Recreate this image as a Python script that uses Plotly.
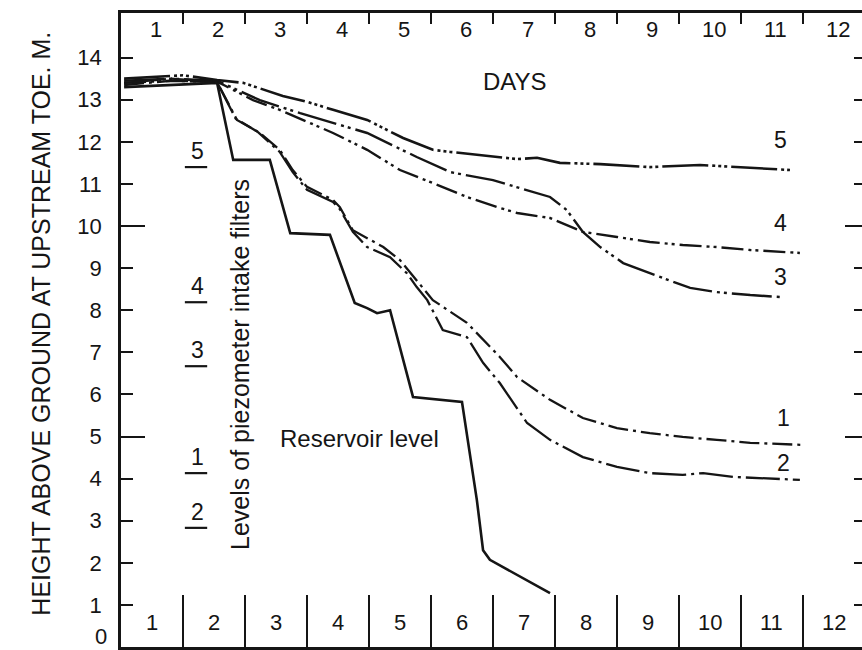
import plotly.graph_objects as go

# ---------------- data (days, height in m) ----------------
res_x = [0.05, 0.8, 1.55, 1.81, 2.40, 2.73, 3.37, 3.77, 3.97, 4.13, 4.34, 4.71, 5.50, 5.74, 5.84, 5.95, 6.92]
res_y = [13.30, 13.35, 13.40, 11.57, 11.57, 9.83, 9.79, 8.17, 8.05, 7.93, 8.00, 5.94, 5.82, 3.49, 2.30, 2.07, 1.28]

c5_x = [0.05, 1.0, 1.55, 1.97, 2.61, 3.00, 3.42, 3.97, 4.55, 5.03, 5.31, 6.11, 6.39, 6.71, 7.08, 7.73, 8.53, 9.34, 9.87, 10.79]
c5_y = [13.50, 13.58, 13.47, 13.40, 13.09, 12.95, 12.76, 12.52, 12.09, 11.81, 11.76, 11.64, 11.59, 11.62, 11.50, 11.47, 11.40, 11.45, 11.40, 11.33]

c4_x = [0.05, 0.8, 1.55, 2.13, 2.56, 3.00, 3.42, 3.97, 4.50, 5.03, 5.58, 6.11, 6.39, 6.92, 7.45, 8.00, 8.53, 9.06, 9.61, 10.15, 10.95]
c4_y = [13.40, 13.45, 13.43, 12.99, 12.76, 12.47, 12.21, 11.81, 11.33, 11.02, 10.69, 10.43, 10.31, 10.19, 9.86, 9.74, 9.62, 9.55, 9.50, 9.43, 9.36]

c3_x = [0.05, 0.8, 1.55, 2.24, 2.89, 3.97, 4.77, 5.31, 6.00, 6.55, 6.92, 7.19, 7.45, 7.73, 8.10, 8.53, 9.18, 9.61, 10.15, 10.68]
c3_y = [13.45, 13.50, 13.45, 12.99, 12.68, 12.21, 11.64, 11.28, 11.09, 10.86, 10.69, 10.38, 9.86, 9.50, 9.12, 8.88, 8.53, 8.43, 8.36, 8.31]

c1_x = [0.05, 0.8, 1.55, 1.87, 2.24, 2.56, 2.77, 3.00, 3.42, 3.53, 3.74, 4.23, 4.50, 5.03, 5.58, 5.84, 6.11, 6.39, 6.92, 7.45, 8.00, 8.53, 9.06, 9.61, 10.15, 11.00]
c1_y = [13.35, 13.45, 13.42, 12.52, 12.21, 11.81, 11.33, 10.93, 10.62, 10.45, 9.90, 9.50, 9.19, 8.24, 7.70, 7.29, 6.89, 6.41, 5.87, 5.44, 5.20, 5.08, 4.99, 4.92, 4.85, 4.80]

c2_x = [0.05, 0.8, 1.55, 1.85, 2.21, 2.56, 2.77, 3.00, 3.42, 3.53, 3.74, 3.97, 4.34, 4.61, 4.77, 4.94, 5.19, 5.58, 5.84, 6.11, 6.55, 6.92, 7.45, 8.00, 8.53, 9.06, 9.39, 9.87, 10.95]
c2_y = [13.40, 13.50, 13.42, 12.55, 12.23, 11.76, 11.28, 10.86, 10.57, 10.40, 9.86, 9.50, 9.26, 8.88, 8.55, 8.24, 7.53, 7.36, 6.75, 6.27, 5.32, 4.92, 4.51, 4.28, 4.13, 4.09, 4.13, 4.04, 3.97]

# piezometer intake filter levels
filter_names = ["5", "4", "3", "1", "2"]
filter_levels = [11.40, 8.19, 6.67, 4.13, 2.83]

# curve end labels
curve_names = ["5", "4", "3", "1", "2"]
curve_label_x = [10.63, 10.63, 10.63, 10.68, 10.68]
curve_label_y = [12.04, 10.07, 8.79, 5.44, 4.37]

day_labels = [str(d) for d in range(1, 13)]
day_bounds = list(range(1, 12))
y_ticks = list(range(0, 15))

# ---------------- figure ----------------
INK = "#151515"
FONT = "Liberation Sans, Arial, sans-serif"
XR = [0, 11.952]
YR = [0, 15.06]

fig = go.Figure()

series = [
    (res_x, res_y, "solid", 2.6),
    (c5_x, c5_y, "46px,4px,3px,3px,3px,3px,3px,4px", 2.6),
    (c4_x, c4_y, "22px,5px,3px,4px,3px,5px", 2.4),
    (c3_x, c3_y, "40px,5px,3px,4px,3px,5px", 2.4),
    (c1_x, c1_y, "20px,5px,3px,5px", 2.3),
    (c2_x, c2_y, "34px,5px,3px,5px", 2.3),
]
for xs, ys, dash, w in series:
    fig.add_trace(go.Scatter(x=xs, y=ys, mode="lines",
                             line=dict(color=INK, width=w, dash=dash),
                             showlegend=False, hoverinfo="skip"))

# filter level markers: short underline at each level
for lv in filter_levels:
    fig.add_trace(go.Scatter(x=[1.03, 1.39], y=[lv, lv], mode="lines",
                             line=dict(color=INK, width=2.2),
                             showlegend=False, hoverinfo="skip"))

# dummy traces so the extra axes are drawn
for xa, ya in [("x2", "y"), ("x", "y2"), ("x", "y3"), ("x", "y4")]:
    fig.add_trace(go.Scatter(x=[None], y=[None], xaxis=xa, yaxis=ya,
                             showlegend=False, hoverinfo="skip"))

annotations = []
centers = [b - 0.5 for b in range(1, 13)]
for lab, c in zip(day_labels, centers):
    # bottom row of day numbers
    annotations.append(dict(x=c, y=0, yref="paper", text=lab, showarrow=False,
                            yanchor="middle", yshift=25,
                            font=dict(size=22, color=INK, family=FONT)))
    # top row of day numbers
    annotations.append(dict(x=c + 0.06, y=1, yref="paper", text=lab, showarrow=False,
                            yanchor="middle", yshift=-16,
                            font=dict(size=22, color=INK, family=FONT)))
for name, lv in zip(filter_names, filter_levels):
    annotations.append(dict(x=1.24, y=lv, text=name, showarrow=False,
                            yanchor="bottom", yshift=1,
                            font=dict(size=23, color=INK, family=FONT)))
for name, lx, ly in zip(curve_names, curve_label_x, curve_label_y):
    annotations.append(dict(x=lx, y=ly, text=name, showarrow=False,
                            font=dict(size=23, color=INK, family=FONT)))
# the "0" height label sits at the very bottom edge; keep it fully inside the page
annotations.append(dict(x=0, y=y_ticks[0], text=str(y_ticks[0]), showarrow=False,
                        xanchor="right", xshift=-12, yanchor="bottom", yshift=-4,
                        font=dict(size=22, color=INK, family=FONT)))
annotations += [
    dict(x=6.35, y=13.44, text="DAYS", showarrow=False,
         font=dict(size=24, color=INK, family=FONT)),
    dict(x=3.85, y=4.96, text="Reservoir level", showarrow=False,
         font=dict(size=24, color=INK, family=FONT)),
    dict(x=1.92, y=6.7, text="Levels of piezometer intake filters", textangle=-90,
         showarrow=False, font=dict(size=25, color=INK, family=FONT)),
    dict(x=-0.108, y=0.51, xref="paper", yref="paper", xanchor="center", yanchor="middle",
         text="HEIGHT ABOVE GROUND AT UPSTREAM TOE. M.", textangle=-90,
         showarrow=False, font=dict(size=25, color=INK, family=FONT)),
]

base_x = dict(range=XR, showgrid=False, zeroline=False, fixedrange=True, automargin=False)
base_y = dict(range=YR, showgrid=False, zeroline=False, fixedrange=True, automargin=False)

fig.update_layout(
    width=862, height=650,
    margin=dict(l=121, r=0, t=13, b=3, autoexpand=False),
    paper_bgcolor="white", plot_bgcolor="white",
    font=dict(family=FONT, color=INK, size=22),
    xaxis=dict(**base_x, tickvals=day_bounds, ticks="inside", ticklen=52, tickwidth=2,
               tickcolor=INK, showticklabels=False,
               showline=True, linewidth=3, linecolor=INK),
    xaxis2=dict(**base_x, overlaying="x", side="top", tickvals=day_bounds,
                ticks="inside", ticklen=11, tickwidth=2, tickcolor=INK,
                showticklabels=False, showline=True, linewidth=2.5, linecolor=INK),
    yaxis=dict(**base_y, tickvals=y_ticks[1:], ticktext=[str(v) for v in y_ticks[1:]],
               ticks="inside", ticklen=12, tickwidth=2,
               tickcolor=INK, showline=True, linewidth=2.5, linecolor=INK,
               ticklabelstandoff=12, ticklabeloverflow="allow",
               tickfont=dict(size=22, color=INK, family=FONT)),
    yaxis2=dict(**base_y, overlaying="y", tickvals=[5, 10], ticks="inside", ticklen=24,
                tickwidth=2, tickcolor=INK, showticklabels=False, showline=False),
    yaxis3=dict(**base_y, overlaying="y", side="right", tickvals=y_ticks[1:],
                ticks="inside", ticklen=8, tickwidth=2, tickcolor=INK,
                showticklabels=False, showline=False),
    yaxis4=dict(**base_y, overlaying="y", side="right", tickvals=[5, 10],
                ticks="inside", ticklen=17, tickwidth=2, tickcolor=INK,
                showticklabels=False, showline=False),
    annotations=annotations,
)

fig.write_html(
    "out.html",
    config={"displayModeBar": False},
    post_script="document.body.style.margin='0';document.body.style.padding='0';"
                "document.body.style.overflow='hidden';",
)
